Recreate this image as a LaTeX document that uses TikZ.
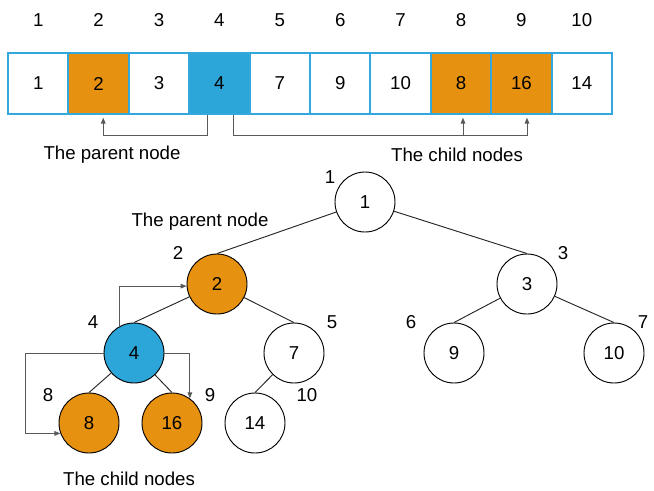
\documentclass[tikz,border=0pt]{standalone}
\usepackage{fontspec}
\setmainfont{Liberation Sans}
\usetikzlibrary{arrows.meta}
\definecolor{hOrange}{HTML}{E6910F}
\definecolor{hBlue}{HTML}{2CA5D9}
\definecolor{hBorder}{HTML}{34A8DC}
\definecolor{hArrow}{HTML}{595959}
\begin{document}
\begin{tikzpicture}[x=0.75pt,y=-0.75pt,
  font=\fontsize{14}{16}\selectfont,
  cell/.style={draw=hBorder, line width=1.5pt, fill=white, inner sep=0pt,
    minimum width=45.3pt, minimum height=45.75pt},
  tnode/.style={circle, draw=black, line width=0.7pt, fill=white, inner sep=0pt,
    minimum size=45pt},
  orange/.style={fill=hOrange},
  blue/.style={fill=hBlue},
  idx/.style={inner sep=0pt},
  edge/.style={draw=black!85, line width=0.7pt},
  arr/.style={draw=hArrow, line width=0.75pt, -{Triangle[length=4.5pt,width=3.5pt]}}]
\useasboundingbox (0,0) rectangle (654,490);

% array
\foreach \i/\v/\s in {1/1/,2/2/orange,3/3/,4/4/blue,5/7/,6/9/,7/10/,8/8/orange,9/16/orange,10/14/}{
  \node[cell,\s] (c\i) at ({8+60.4*(\i-0.5)},83.5) {\v};
  \node[idx] (i\i) at ({8+60.4*(\i-0.5)},20) {\i};
}
\draw[arr, shorten >=2pt] ([xshift=-9.3pt]c4.south) -- ++(0,20.5) -| ([xshift=3.5pt]c2.south);
\draw[arr, shorten >=2pt] ([xshift=10.2pt]c4.south) -- ++(0,20.5) -| ([xshift=4.2pt]c9.south);
\draw[arr, shorten >=2pt] ([xshift=1.5pt]c8.south) ++(0,20.5) -- ([xshift=1.5pt]c8.south);
\node (lp1) at (112,155) {The parent node};
\node (lc1) at (457,155) {The child nodes};

% tree
\node[tnode] (t1) at (365,202) {1};
\node[tnode,orange] (t2) at (217,284) {2};
\node[tnode] (t3) at (527,284) {3};
\node[tnode,blue] (t4) at (134,353) {4};
\node[tnode] (t5) at (294,353) {7};
\node[tnode] (t6) at (454,353) {9};
\node[tnode] (t7) at (614,353) {10};
\node[tnode,orange] (t8) at (89,423) {8};
\node[tnode,orange] (t9) at (172,423) {16};
\node[tnode] (t10) at (255,423) {14};

\draw[edge] (t1) -- (t2.north);
\draw[edge] (t1) -- (t3.north);
\draw[edge] (t2) -- (t4.north);
\draw[edge] (t2) -- (t5.north);
\draw[edge] (t3) -- (t6.north);
\draw[edge] (t3) -- (t7.north);
\draw[edge] (t4) -- (t8.north);
\draw[edge] (t4) -- (t9.north);
\draw[edge] (t5) -- (t10.north);

\node[idx] (n1) at (330,177) {1};
\node[idx] (n2) at (178,253) {2};
\node[idx] (n3) at (563,253) {3};
\node[idx] (n4) at (93,322) {4};
\node[idx] (n5) at (332,322) {5};
\node[idx] (n6) at (411,322) {6};
\node[idx] (n7) at (643,322) {7};
\node[idx] (n8) at (48,395) {8};
\node[idx] (n9) at (210,395) {9};
\node[idx] (n10) at (307,395) {10};

\draw[arr] (t4.118) |- (t2.184);
\draw[arr] (t4.west) -- ++(-78,0) |- (t8.200);
\draw[arr] (t4.east) -| (t9.54);

\node (lp2) at (200,222) {The parent node};
\node (lc2) at (129,479) {The child nodes};
\end{tikzpicture}
\end{document}
